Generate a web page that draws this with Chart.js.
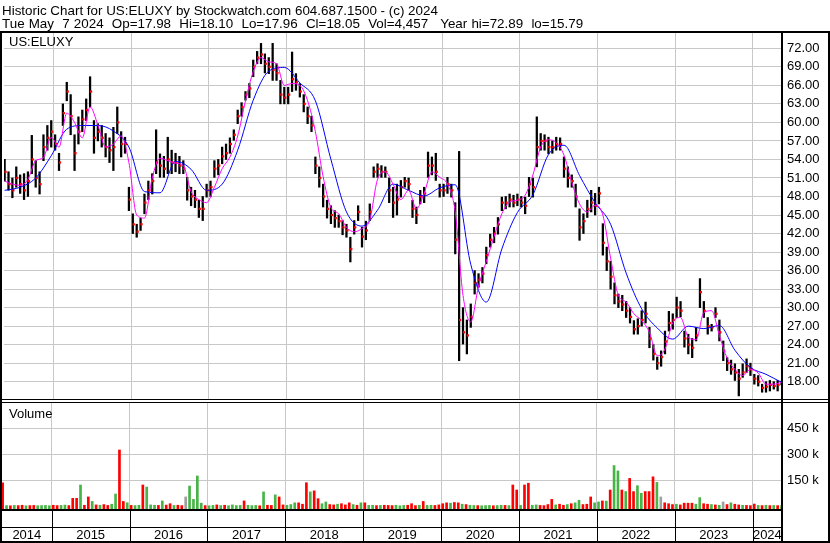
<!DOCTYPE html>
<html>
<head>
<meta charset="utf-8">
<title>US:ELUXY historic chart</title>
<script src="https://cdn.jsdelivr.net/npm/chart.js@4.4.1/dist/chart.umd.min.js"></script>
<style>
  html, body { margin: 0; padding: 0; background: #fff; }
  #wrap { position: relative; width: 830px; height: 543px; overflow: hidden; }
  canvas { position: absolute; left: 0; }
  .hdr { position: absolute; left: 2px; z-index: 2; font: 13.4px/13px 'Liberation Sans', Arial, sans-serif; white-space: pre; color: #000; }
</style>
</head>
<body>
<div id="wrap">
  <canvas id="price" width="830" height="403" style="top:0"></canvas>
  <canvas id="volume" width="830" height="140" style="top:403px"></canvas>
  <div class="hdr" style="top:4px">Historic Chart for US:ELUXY by Stockwatch.com 604.687.1500 - (c) 2024</div>
  <div class="hdr" style="top:17px; word-spacing:0.4px">Tue May  7 2024  Op=17.98  Hi=18.10  Lo=17.96  Cl=18.05  Vol=4,457   Year hi=72.89  lo=15.79</div>
</div>
<script>
'use strict';

var FONT = "'Liberation Sans', Arial, sans-serif";

// bars: one every 0.05 year (~2.6 weeks) from mid 2014
var firstBar = 2014.37;
var barStep = 0.05;

var hi = [
    54, 52, 51, 52.8, 51.5, 51.7, 52, 57.9, 53.8, 52,
    58, 59.5, 60.3, 58, 55, 63, 66.5, 64.5, 58, 60.9,
    62, 63.8, 67.4, 60.3, 59.8, 59.5, 58.2, 57.5, 59.2, 62.5,
    58.5, 57.6, 49.5, 45.2, 43.5, 44.5, 48.4, 50.5, 51.7, 58.8,
    54.9, 54.5, 57.6, 55.5, 55, 54.5, 53.8, 51.1, 49.5, 49,
    47.4, 48, 50, 50.5, 53.8, 54, 56, 56.5, 57.5, 58.8,
    62, 63.2, 65, 66.3, 70.1, 71.5, 72.8, 71.1, 70.5, 72.8,
    69.5, 66.8, 65.7, 65.7, 71.4, 67.9, 66.3, 64.5, 62.5, 61,
    54.4, 52.8, 50, 47.4, 46.5, 45.7, 45, 44.1, 43.5, 41.4,
    44.1, 46.5, 43, 44, 46.8, 52.8, 53.3, 53, 52.8, 51,
    49.5, 50, 50.6, 51.1, 51, 47.4, 46.3, 49, 49.5, 55.2,
    54.4, 55, 50, 50, 51.1, 50, 47, 55.3, 30, 28,
    30.6, 36, 35.5, 36.5, 39.8, 41.9, 43, 44.6, 47.9, 48,
    48.4, 48.2, 48.4, 48, 47.9, 51.1, 51, 60.9, 58.2, 58,
    57.6, 57, 57.6, 57.5, 54.4, 52.8, 51.5, 50, 46, 45.2,
    47.4, 49, 48.5, 49.5, 43.6, 39.8, 37.5, 34, 32.2, 32,
    31, 30, 27.9, 28.2, 29.5, 30.9, 26.8, 24, 22, 23,
    26.2, 29.4, 29, 31.7, 31, 26.2, 25.7, 25, 26.8, 34.7,
    31, 28.4, 27.3, 30, 28, 24.6, 21.9, 21.5, 20.9, 20,
    20.9, 21.7, 21, 19.2, 19, 17.6, 18, 18.2, 18, 18.2,
    18.1
];
var lo = [
    50.5, 49, 47.8, 49.5, 48.5, 47.5, 48, 51.7, 49.5, 48.4,
    53.8, 55.5, 56, 55.5, 52.2, 59.5, 63.5, 58, 52.2, 56.5,
    58.5, 60.3, 62.5, 55, 57, 56, 54.4, 53.5, 52.2, 58.2,
    54.4, 55, 45.7, 42, 41.4, 42.5, 45.2, 47.5, 48.4, 51.7,
    51.1, 51.1, 51.7, 51.7, 52, 51.7, 51.7, 47.4, 46.5, 46.2,
    44.6, 44.1, 47.9, 48, 51.1, 51.5, 53.3, 54, 55, 57.1,
    59.8, 61, 63.6, 64, 67.4, 69.5, 69.5, 68, 67.9, 66.8,
    66.8, 63, 63, 63, 65, 65.2, 64.1, 61.7, 59.8, 58.5,
    51.7, 49.5, 46.3, 44.5, 43.6, 43, 43, 41.8, 41.4, 37.4,
    41.9, 44.1, 39.8, 41, 44.1, 51.1, 51.1, 51.1, 51.1, 47,
    44.6, 45, 47.9, 49.5, 49, 44.6, 43.6, 46.8, 47, 51.1,
    51.5, 50.6, 47.9, 48, 48.5, 47.9, 38.7, 21.4, 24.1, 22.5,
    26.8, 32.2, 33.3, 34, 37.1, 39.8, 40.5, 41.9, 45.7, 46,
    46.3, 46.3, 46.5, 46.3, 45.2, 48, 47.9, 52.8, 55.5, 55.5,
    54.9, 55, 55.5, 55.5, 51.1, 49.5, 49.5, 46.3, 40.9, 42,
    44.6, 45.5, 45, 46.8, 38.5, 36, 33, 30.6, 30, 29.5,
    28.4, 27.5, 25.7, 25.7, 27, 27.5, 23.5, 21.5, 20, 20.5,
    22.5, 26.2, 26.5, 28.4, 28.5, 23.6, 22.5, 21.9, 24.6, 30,
    28.4, 25.7, 26.2, 28.4, 24.6, 21.4, 19.8, 19.2, 18.2, 15.7,
    18.7, 19.5, 19, 17.6, 17.3, 16.3, 16.3, 16.5, 16.8, 16.5,
    17.5
];
var cl = [
    52, 50, 49, 51, 50, 49, 50.5, 54, 51, 50,
    56, 57.5, 58.5, 56.5, 53.5, 61.5, 65, 61, 55, 58.5,
    60.5, 62, 65, 57.5, 58.5, 57.5, 56, 55.5, 56, 60,
    56.5, 56.5, 47.5, 43.5, 42.3, 43.5, 47, 49, 50.5, 53.5,
    53, 52.5, 54, 53.5, 53.5, 53, 52.5, 49, 48, 47.5,
    46, 46, 49, 49.5, 52.5, 53, 54.5, 55, 56.5, 58,
    61, 62.5, 64.5, 65.5, 69, 70.5, 71, 69.5, 69, 68.5,
    68, 64.5, 64, 64.5, 67, 66.5, 65, 63, 61, 59.5,
    53, 51, 48, 46, 45, 44.5, 44, 43, 42.5, 39.5,
    43, 45.5, 41.5, 42.5, 45.5, 52, 52.5, 52, 52, 49,
    47, 47.5, 49.5, 50.5, 50, 46, 45, 48, 48.5, 53,
    53, 52, 49, 49, 50, 49, 41, 28, 26, 25.5,
    28.5, 34, 34.5, 35.5, 38.5, 41, 42, 43.5, 47, 47,
    47.5, 47, 47.5, 47, 46.5, 50, 49.5, 56, 57, 57,
    56, 56, 56.5, 56.5, 52.5, 51, 50.5, 48, 43, 44,
    46, 47, 46.5, 48.5, 40.5, 37.5, 35, 32, 31, 30.5,
    29.5, 28.5, 26.5, 27, 28, 29, 25, 22.5, 21, 22,
    24.5, 27.5, 28, 30, 29.5, 25, 24, 23.5, 25.5, 32.5,
    29.5, 27, 26.8, 29, 26, 23, 21, 20, 19.5, 18.5,
    19.5, 20.5, 20, 18.5, 18, 17, 17.2, 17.5, 17.3, 17.5,
    18.05
];

// volume per bar, thousands of shares
var volK = [
    136, 4, 3, 5, 4, 6, 3, 4, 5, 3,
    4, 5, 3, 6, 4, 5, 7, 4, 46, 46,
    123, 6, 54, 28, 8, 6, 10, 5, 12, 71,
    325, 28, 20, 5, 4, 6, 123, 111, 8, 6,
    5, 31, 7, 15, 5, 6, 4, 54, 117, 40,
    175, 18, 4, 3, 5, 8, 4, 6, 3, 8,
    4, 5, 31, 6, 4, 5, 3, 83, 6, 5,
    66, 54, 8, 6, 10, 20, 20, 12, 136, 83,
    89, 44, 15, 25, 10, 8, 12, 15, 8, 20,
    10, 6, 20, 20, 5, 6, 4, 5, 6, 5,
    4, 6, 3, 5, 6, 15, 4, 6, 28, 5,
    6, 5, 8, 15, 20, 18, 22, 20, 12, 10,
    6, 5, 4, 3, 4, 5, 3, 4, 6, 5,
    4, 123, 94, 5, 123, 133, 6, 8, 5, 4,
    10, 40, 8, 12, 6, 10, 15, 20, 35, 10,
    12, 54, 20, 25, 31, 30, 94, 235, 204, 94,
    85, 161, 85, 119, 75, 85, 85, 170, 138, 54,
    20, 15, 10, 12, 8, 18, 18, 18, 12, 50,
    15, 12, 10, 8, 6, 25, 10, 20, 12, 8,
    6, 5, 4, 13, 5, 4, 6, 4, 5, 4,
    4
];
// u = up week, d = down week, n = unchanged
var volSide = ('dududduddu' + 'uuudduuddd' + 'uddududduu' + 'dduduuduuu' + 'dudduddnuu' +
    'uuduududuu' + 'uuduuududd' + 'udduuudddu' + 'dduudduddd' + 'ududuududd' +
    'duuudddudu' + 'udddduddud' + 'uuduuuduud' + 'uddudduudd' + 'ddudduduud' +
    'dduududuud' + 'udduudddun' + 'dddudddduu' + 'ddudundudd' + 'udddududud' + 'u').split('');

// moving averages
var maFastStep = 0.1;
var maFast = [
    50.5, 50, 49.8, 50.8, 53.8, 54.3, 57.6, 56, 61.5, 60,
    57.5, 62.5, 59.6, 56, 56.5, 57.8, 53.5, 45, 44.5, 51,
    54.2, 53.8, 53.4, 53, 48.8, 47.5, 47, 49.5, 52.5, 54.4,
    57.8, 63.5, 68.2, 70.5, 69.8, 69.5, 66, 66.3, 66, 63.5,
    58.5, 51.2, 46.2, 45.2, 43, 42.3, 42.8, 44.2, 50.8, 52,
    50, 47.5, 49, 46, 48.5, 52, 51.1, 50, 45.5, 32,
    27.7, 33.5, 37.5, 41.5, 45.2, 47.1, 47.4, 48.2, 51.5, 56,
    57.2, 56.7, 54.7, 50.3, 46.8, 45.5, 46.6, 45, 38, 32,
    30.9, 29, 27.9, 26, 22.2, 23.3, 27.6, 28.4, 25.2, 24.8,
    29.2, 29.5, 25.5, 21.8, 20, 19, 20, 19.4, 17.6, 17.6,
    17.9
];
var maSlowStep = 0.2;
var maSlow = [
    49, 49.5, 51, 54.6, 58.9, 59.5, 59.5, 58.6, 56, 48.8,
    48.6, 53.7, 52.4, 49, 50, 55.5, 63.6, 68.3, 68.9, 66.4,
    63.5, 54, 45.5, 43.2, 45.8, 50, 49, 48.1, 49.4, 49.9,
    37, 30.9, 39.5, 45.4, 48.3, 54.8, 56.3, 51.4, 47, 43.5,
    35.6, 29.8, 26.7, 24.9, 27, 26.6, 27.1, 23.1, 20.3, 19.2,
    17.9
];

var years = [2014, 2015, 2016, 2017, 2018, 2019, 2020, 2021, 2022, 2023, 2024];
var yearLines = [2015, 2016, 2017, 2018, 2019, 2020, 2021, 2022, 2023, 2024];
var priceTicks = [18, 21, 24, 27, 30, 33, 36, 39, 42, 45, 48, 51, 54, 57, 60, 63, 66, 69, 72];
var volTicks = [150, 300, 450];

var xMin = 2014.362;
var xMax = 2024.376;

var GRID = '#c8c8c8';
var colours = { u: '#46b446', d: '#ff0000', n: '#a0a0a0' };

function barTime(i) { return firstBar + i * barStep; }

function xAxis() {
    return {
        type: 'linear',
        min: xMin,
        max: xMax,
        offset: false,
        afterBuildTicks: s => { s.ticks = yearLines.map(v => ({value: v})); },
        ticks: {display: false},
        grid: {color: GRID, lineWidth: 1, drawTicks: false, offset: false},
        border: {display: false}
    };
}

function rightAxis(min, max, ticks, fmt) {
    return {
        position: 'right',
        min: min,
        max: max,
        afterBuildTicks: s => { s.ticks = ticks.map(v => ({value: v})); },
        // fixed width, and no extra room reserved for half labels at the ends
        afterFit: s => { s.width = 48; s.paddingTop = 0; s.paddingBottom = 0; },
        ticks: {color: '#000', font: {family: FONT, size: 13}, padding: 5, autoSkip: false, callback: fmt},
        grid: {color: GRID, lineWidth: 1, drawTicks: false},
        border: {display: false}
    };
}

var rangeData = hi.map((h, i) => ({x: barTime(i), y: [lo[i], h]}));
// close tick sits just right of its bar
var closeData = cl.map((c, i) => ({x: barTime(i) + 0.012, y: c}));
var fastData = maFast.map((v, k) => ({x: firstBar + k * maFastStep, y: v}));
var slowData = maSlow.map((v, k) => ({x: firstBar + k * maSlowStep, y: v}));
var volData = volK.map((v, i) => ({x: barTime(i), y: v}));

var priceFrame = {
    id: 'priceFrame',
    afterDraw(chart) {
        var c = chart.ctx, a = chart.chartArea, W = chart.width;
        c.save();
        c.fillStyle = '#000';
        c.fillRect(0, 31, W, 2);                 // rule under header
        c.fillRect(0, 31, 2, 372);               // left edge
        c.fillRect(a.right - 1, 31, 2, 372);     // axis separator
        c.fillRect(W - 2, 31, 2, 372);           // right edge
        c.fillRect(0, 399, W, 1);                // double rule between panels
        c.fillRect(0, 402, W, 1);
        c.font = '13px ' + FONT;
        c.textBaseline = 'alphabetic';
        c.fillText('US:ELUXY', 9, 46);
        c.restore();
    }
};

var volFrame = {
    id: 'volFrame',
    afterDraw(chart) {
        var c = chart.ctx, a = chart.chartArea, W = chart.width;
        var xs = chart.scales.x;
        c.save();
        c.fillStyle = '#000';
        c.fillRect(0, 0, 2, chart.height);
        c.fillRect(a.right - 1, 0, 2, chart.height);
        c.fillRect(W - 2, 0, 2, chart.height);
        c.fillRect(0, a.bottom, a.right, 2);     // base of volume panel
        c.fillRect(0, a.bottom + 18, a.right, 1);
        c.fillRect(0, chart.height - 2, W, 2);   // bottom edge
        yearLines.forEach(y => {
            var px = Math.round(xs.getPixelForValue(y));
            c.fillRect(px, a.bottom + 2, 1, chart.height - a.bottom - 4);
        });
        c.font = '13px ' + FONT;
        c.textAlign = 'center';
        c.textBaseline = 'alphabetic';
        years.forEach(y => {
            var l = Math.max(a.left, xs.getPixelForValue(y));
            var r = Math.min(a.right, xs.getPixelForValue(y + 1));
            c.fillText(String(y), (l + r) / 2, chart.height - 4);
        });
        c.textAlign = 'left';
        c.fillText('Volume', 9, 15);
        c.restore();
    }
};

var common = {
    responsive: false,
    animation: false,
    events: [],
    plugins: {legend: {display: false}, tooltip: {enabled: false}}
};

new Chart(document.getElementById('price'), {
    type: 'bar',
    data: {
        datasets: [
            {type: 'line', data: fastData, borderColor: '#ff00ff', borderWidth: 1, pointRadius: 0, cubicInterpolationMode: 'monotone', order: 0},
            {type: 'line', data: slowData, borderColor: '#0000ff', borderWidth: 1, pointRadius: 0, cubicInterpolationMode: 'monotone', order: 0},
            {type: 'line', data: closeData, showLine: false, pointStyle: 'rect', pointRadius: 1.6, pointBorderWidth: 0, pointBackgroundColor: '#ff0000', order: 1},
            {type: 'bar', data: rangeData, backgroundColor: '#000', barThickness: 1.6, order: 2}
        ]
    },
    options: Object.assign({}, common, {
        layout: {padding: {top: 33, bottom: 4, left: 2, right: 0}},
        scales: {
            x: xAxis(),
            y: rightAxis(15.2, 74.48, priceTicks, v => v.toFixed(2))
        }
    }),
    plugins: [priceFrame]
});

new Chart(document.getElementById('volume'), {
    type: 'bar',
    data: {
        datasets: [{
            data: volData,
            base: -15.6,
            backgroundColor: volSide.map(s => colours[s]),
            barThickness: 2
        }]
    },
    options: Object.assign({}, common, {
        layout: {padding: {top: 0, bottom: 34, left: 2, right: 0}},
        scales: {
            x: xAxis(),
            y: rightAxis(-15.6, 596, volTicks, v => v + ' k')
        }
    }),
    plugins: [volFrame]
});
</script>
</body>
</html>
